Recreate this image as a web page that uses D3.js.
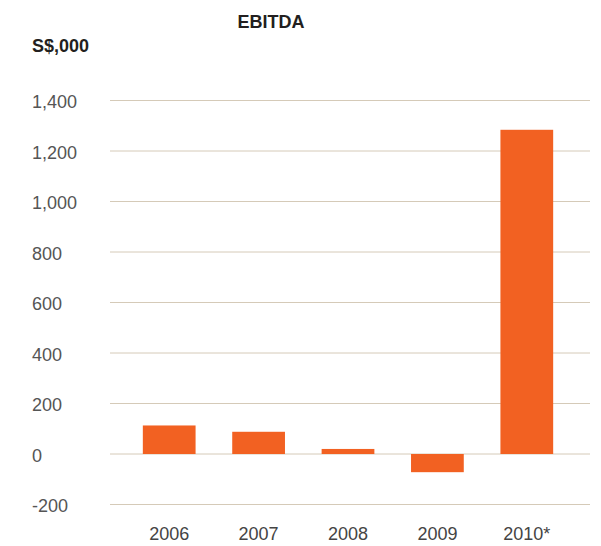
<!DOCTYPE html>
<html><head><meta charset="utf-8">
<script src="https://cdn.jsdelivr.net/npm/d3@7"></script>
<style>body{margin:0;background:#fff;} text{font-family:"Liberation Sans",Arial,sans-serif;}</style>
</head><body>
<svg id="c" width="601" height="546"></svg>
<script>
const categories = ["2006","2007","2008","2009","2010*"];
const values = [113, 88, 20, -72, 1284];
const tickValues = [-200,0,200,400,600,800,1000,1200,1400];
const title = "EBITDA";
const unit = "S$,000";

const svg = d3.select("#c");
const y = d3.scaleLinear().domain([-200,1400]).range([504.5,100.5]);
const x = d3.scaleBand().domain(categories).range([124.5,571.5])
  .paddingInner(0.41).paddingOuter(0.205);

svg.append("text").attr("x",271).attr("y",27.5).attr("text-anchor","middle")
  .attr("font-size",18).attr("font-weight","bold").attr("fill","#231f20").text(title);
svg.append("text").attr("x",32).attr("y",51.5)
  .attr("font-size",18).attr("font-weight","bold").attr("fill","#231f20").text(unit);

const fmt = d => d3.format(",")(d).replace("\u2212","-");
const g = svg.append("g");
g.selectAll("line").data(tickValues).join("line")
  .attr("x1",110).attr("x2",590)
  .attr("y1",d=>y(d)).attr("y2",d=>y(d))
  .attr("stroke","#d5cab8").attr("stroke-width",1);
g.selectAll("text").data(tickValues).join("text")
  .attr("x",32).attr("y",d=>y(d)+7.5)
  .attr("font-size",18).attr("fill","#555").text(d=>fmt(d));

svg.append("g").selectAll("rect").data(values).join("rect")
  .attr("x",(d,i)=>x(categories[i]))
  .attr("width",x.bandwidth())
  .attr("y",d=>y(Math.max(0,d)))
  .attr("height",d=>Math.abs(y(d)-y(0)))
  .attr("fill","#f26122");

svg.append("g").selectAll("text").data(categories).join("text")
  .attr("x",d=>x(d)+x.bandwidth()/2).attr("y",540)
  .attr("text-anchor","middle").attr("font-size",18).attr("fill","#444").text(d=>d);
</script>
</body></html>
